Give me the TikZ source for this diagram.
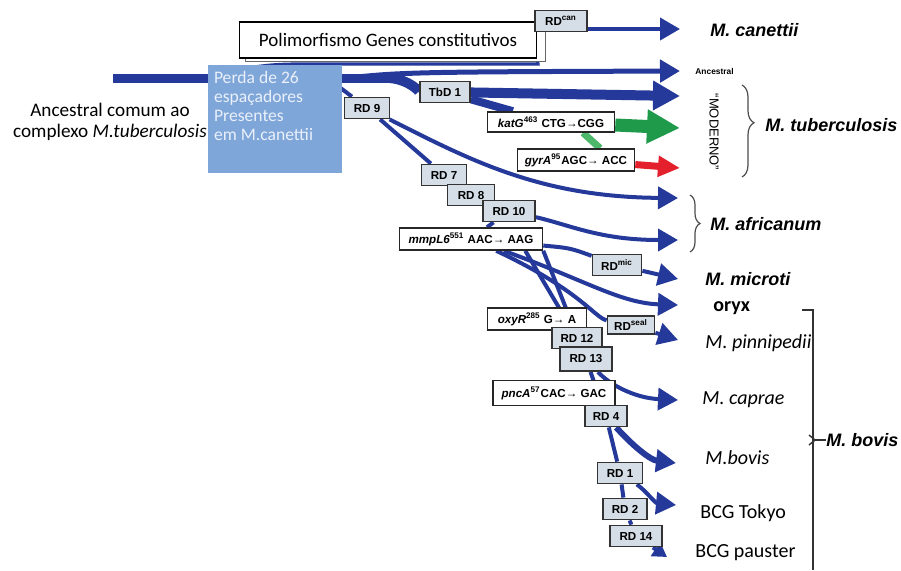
\documentclass[tikz,border=0pt]{standalone}
\usepackage{fontspec}
\setmainfont{Carlito}
\newfontfamily\arialfont{Liberation Sans}
\usetikzlibrary{arrows.meta,backgrounds,decorations.pathreplacing}
\definecolor{lineblue}{HTML}{24399A}
\definecolor{rdfill}{HTML}{D5DDE6}
\definecolor{perdablue}{HTML}{7FA6D9}
\definecolor{perdatext}{HTML}{EAF0FA}
\definecolor{katgreen}{HTML}{1E9A4A}
\definecolor{linkgreen}{HTML}{4DB86A}
\definecolor{gyrred}{HTML}{E3202B}
\newcommand{\boxfont}{\arialfont\bfseries\fontsize{5.8}{6}\selectfont}
\newcommand{\spfont}{\arialfont\bfseries\itshape\fontsize{9}{10}\selectfont}
\newcommand{\calfont}{\fontsize{10}{11}\selectfont}

\begin{document}
\begin{tikzpicture}[x=0.5pt,y=-0.5pt,
	lineage/.style={draw=lineblue,line width=2pt},
	headblue/.style={-{Triangle[length=10pt,width=11pt]}},
	rdbox/.style={draw=black!80,fill=rdfill,line width=0.9pt,font=\boxfont,inner sep=0pt,minimum height=10.5pt},
	mutbox/.style={draw=black!85,fill=white,line width=0.8pt,font=\boxfont,inner sep=0pt,minimum height=11pt},
	species/.style={font=\spfont,anchor=west,inner sep=0pt},
	calname/.style={font=\calfont,anchor=west,inner sep=0pt}]
		\useasboundingbox (0,0) rectangle (901,570);
		\node[font=\fontsize{9.6}{10.5}\selectfont,align=center] (ancestor) at (110,122) {Ancestral comum ao\\complexo \textit{M.tuberculosis}};
		\node[fill=perdablue,text=perdatext,inner sep=3pt,font=\fontsize{8.8}{9.6}\selectfont] (perda) at (275,119) {\parbox[c][48pt][t]{61pt}{Perda de 26\\espaçadores\\Presentes\\em M.canettii}};
		\node[draw=black!60,fill=white,minimum width=150pt,minimum height=17.5pt] (poliback) at (395,44) {};
		\node[draw=black,fill=white,line width=0.6pt,minimum width=148.5pt,minimum height=18pt,inner sep=0pt,font=\fontsize{9.5}{10}\selectfont] (poli) at (388,40) {Polimorfismo Genes constitutivos};
		\node[rdbox,minimum width=26pt] (rdcan) at (561,21) {RD\textsuperscript{can}};
		\node[rdbox,minimum width=25pt] (tbd) at (445,92) {TbD 1};
		\node[rdbox,minimum width=22.5pt] (rd9) at (367,108) {RD 9};
		\node[mutbox,minimum width=63.5pt,minimum height=10pt] (katg) at (551,122) {\textit{katG}\textsuperscript{463} CTG→CGG};
		\node[mutbox,minimum width=58.5pt] (gyra) at (576,160) {\textit{gyrA}\textsuperscript{95}AGC→ ACC};
		\node[rdbox,minimum width=22.5pt] (rd7) at (444,175) {RD 7};
		\node[rdbox,minimum width=23.5pt] (rd8) at (471,195) {RD 8};
		\node[rdbox,minimum width=26pt] (rd10) at (509,211) {RD 10};
		\node[mutbox,minimum width=71.5pt] (mmpl) at (471,239) {\textit{mmpL6}\textsuperscript{551} AAC→ AAG};
		\node[rdbox,minimum width=24.5pt] (rdmic) at (617,265) {RD\textsuperscript{mic}};
		\node[rdbox,minimum width=23.5pt,minimum height=9pt] (rdseal) at (631,325) {RD\textsuperscript{seal}};
		\node[mutbox,minimum width=49.5pt] (oxyr) at (537,319) {\textit{oxyR}\textsuperscript{285} G→ A};
		\node[rdbox,minimum width=25pt] (rd12) at (577,338) {RD 12};
		\node[rdbox,minimum width=26pt,minimum height=12pt] (rd13) at (586,359) {RD 13};
		\node[mutbox,minimum width=61pt,minimum height=12.5pt] (pnca) at (554,393) {\textit{pncA}\textsuperscript{57}CAC→ GAC};
		\node[rdbox,minimum width=21pt] (rd4) at (606,416) {RD 4};
		\node[rdbox,minimum width=22.5pt] (rd1) at (620,473) {RD 1};
		\node[rdbox,minimum width=22pt] (rd2) at (625,509) {RD 2};
		\node[rdbox,minimum width=26pt] (rd14) at (636,536) {RD 14};
		\node[species] (canettii) at (710,30) {M. canettii};
		\node[font=\arialfont\bfseries\fontsize{4.2}{5}\selectfont,anchor=west,inner sep=0pt] (anclabel) at (695,71) {Ancestral};
		\node[font=\arialfont\fontsize{6.5}{7}\selectfont,rotate=-90,inner sep=0pt] (moderno) at (714,132) {“MODERNO”};
		\node[species] (tuberc) at (765,125) {M. tuberculosis};
		\node[species] (africanum) at (710,224) {M. africanum};
		\node[species] (microti) at (705,279) {M. microti};
		\node[font=\calfont\bfseries,anchor=west,inner sep=0pt] (oryx) at (713,308) {oryx};
		\node[calname] (pinni) at (705,343) {\textit{M. pinnipedii}};
		\node[calname] (caprae) at (702,400) {\textit{M. caprae}};
		\node[calname] (mbovis) at (705,458) {\textit{M.bovis}};
		\node[calname] (tokyo) at (700,513) {BCG Tokyo};
		\node[calname] (pauster) at (695,553) {BCG pauster};
		\node[species] (bovisgroup) at (826,440) {M. bovis};
		\coordinate (root) at (113,78);
		\coordinate (canfork) at (205,78);
		\coordinate (split) at (330,80);
		\coordinate (fork) at (390,78);
		\coordinate (tipcan) at (680,29);
		\coordinate (tipanc) at (680,71);
		\coordinate (tipmod) at (680,96);
		\coordinate (tipkat) at (680,128);
		\coordinate (tipgyr) at (680,168);
		\coordinate (tipafa) at (678,198);
		\coordinate (tipafb) at (678,240);
		\coordinate (tipmic) at (678,279);
		\coordinate (tiporyx) at (678,305);
		\coordinate (tippin) at (678,340);
		\coordinate (tipcap) at (678,400);
		\coordinate (tipbov) at (676,463);
		\coordinate (tiptok) at (676,505);
		\coordinate (tippas) at (667,557);
		\begin{scope}[on background layer]
			\draw[lineage,line width=4.5pt] (root) -- (fork);
			\draw[lineage,line width=1.6pt] (canfork) .. controls (240,70) and (255,64) .. (300,64) -- (538,64) -- (rdcan.south west);
			\draw[lineage,headblue] (rdcan.east |- tipcan) -- (tipcan);
			\draw[lineage,line width=2.5pt,headblue] (split) .. controls (400,72) .. (tipanc);
			\draw[lineage,line width=5pt,-{Triangle[length=13.5pt,width=14pt]}] (fork) .. controls (410,80) and (420,92) .. (tbd) -- (tipmod);
			\draw[lineage,line width=4pt] (tbd) -- (katg);
			\draw[draw=katgreen,line width=6.5pt,-{Triangle[length=16.5pt,width=16pt]}] (katg) -- (tipkat);
			\draw[draw=linkgreen,line width=3.5pt] ([xshift=16pt]katg.south) -- ([xshift=12pt]gyra.north);
			\draw[draw=gyrred,line width=3.5pt,-{Triangle[length=11pt,width=10pt]}] (gyra) -- (tipgyr);
			\draw[lineage] (split) -- (rd9);
			\draw[lineage,headblue] (rd9) .. controls (470,160) and (540,197) .. (tipafa);
			\draw[lineage] (rd9) -- (rd7) -- (rd8) -- (rd10) -- (mmpl);
			\draw[lineage,headblue] (rd10) .. controls (570,225) and (600,240) .. (tipafb);
			\draw[lineage,headblue] (mmpl) .. controls (570,248) .. (rdmic) -- (tipmic);
			\draw[lineage,headblue] (mmpl) .. controls (585,280) and (620,303) .. (tiporyx);
			\draw[lineage,headblue] (mmpl) .. controls (580,290) and (595,318) .. (rdseal) -- (tippin);
			\draw[lineage] ([xshift=-9pt]mmpl.south east) -- (rd12);
			\draw[lineage] (mmpl.south east) -- (rd13);
			\draw[lineage,headblue] (rd13) .. controls (610,385) and (635,398) .. (tipcap);
			\draw[lineage] (rd13) -- (rd4);
			\draw[lineage,line width=3pt,headblue] (rd4) .. controls (632,445) and (650,460) .. (tipbov);
			\draw[lineage] (rd4) -- (rd1);
			\draw[lineage,headblue] (rd1) .. controls (645,490) and (655,503) .. (tiptok);
			\draw[lineage] (rd1) -- (rd2) -- (rd14);
			\draw[lineage,-{Triangle[length=7pt,width=8pt]}] (rd14) -- (tippas);
		\end{scope}
		\draw[black!70,line width=0.6pt,decorate,decoration={brace,amplitude=6pt,aspect=0.41}] (742,85) -- (742,177);
		\draw[black!70,line width=0.6pt,decorate,decoration={brace,amplitude=5pt}] (690,195) -- (690,252);
		\draw[black!80,line width=0.7pt] (802,310) -- (813,310) -- (813,570);
		\draw[black!80,line width=0.7pt] (809,435) -- (815,440) -- (809,445);
		\draw[black!80,line width=0.7pt] (815,440) -- (bovisgroup.west);
\end{tikzpicture}
\end{document}
